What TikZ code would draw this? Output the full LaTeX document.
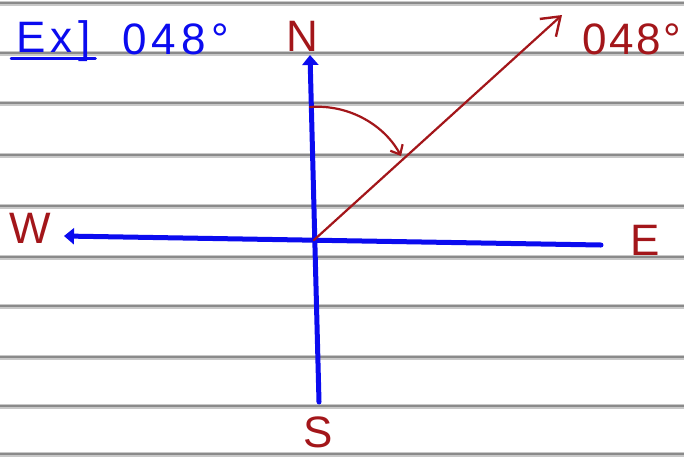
\documentclass[tikz,border=0pt]{standalone}
\usepackage{fontspec}
\setmainfont{Liberation Sans}
\usetikzlibrary{arrows.meta,positioning}
\definecolor{cmpBlue}{HTML}{0B0BEF}
\definecolor{cmpRed}{HTML}{A3161A}
\definecolor{cmpRule}{HTML}{8A8A8A}
\definecolor{cmpRuleEdge}{HTML}{C8C8C8}
\tikzset{
  ruling/.style={draw=cmpRuleEdge, line width=5pt},
  rulecore/.style={draw=cmpRule, line width=2pt},
  axis/.style={draw=cmpBlue, line width=5pt, line cap=round,
              -{Triangle[length=10pt,width=16pt]}},
  bearing/.style={draw=cmpRed, line width=2.2pt, line cap=round,
              -{Straight Barb[length=17pt,width=24pt,line width=2.4pt]}},
  sweep/.style={draw=cmpRed, line width=2.2pt, line cap=round,
              -{Straight Barb[length=8pt,width=14pt,line width=2.2pt]}},
  pt/.style={text=cmpRed, font=\fontsize{44}{44}\selectfont, inner sep=0pt},
  note/.style={text=cmpBlue, font=\fontsize{44}{44}\selectfont\addfontfeature{LetterSpace=12},
              inner sep=0pt},
  uline/.style={draw=cmpBlue, line width=2.5pt, line cap=round},
}

\begin{document}
\begin{tikzpicture}[x=1pt,y=-1pt]
  \useasboundingbox[fill=white] (0,0) rectangle (684,456);
  % ruled paper
  \foreach \y in {3,53,103,155,206,257,306,357,406,454}{
    \draw[ruling] (0,\y) -- (684,\y);
    \draw[rulecore] (0,\y) -- (684,\y);
  }
  % compass points
  \coordinate (o) at (314,240);
  \coordinate (ntip) at (310,55);
  \coordinate (send) at (319,402);
  \coordinate (wtip) at (64,236);
  \coordinate (eend) at (601,245);
  \coordinate (btip) at (562,15);
  \node[pt] (n) at (302,36) {N};
  \node[pt] (s) at (318,432) {S};
  \node[pt] (w) at (30,228) {W};
  \node[pt] (e) at (645,240) {E};
  \node[pt,anchor=base west,font=\fontsize{44}{44}\selectfont\addfontfeature{LetterSpace=6}]
    (brg) at (582,54) {048°};
  \node[note,anchor=base west] (ex) at (16,52) {Ex]};
  \draw[uline] ([xshift=-5pt,yshift=3pt]ex.south west) -- ([xshift=5pt,yshift=3pt]ex.south east);
  \node[note,anchor=base west] (given) at (122,54) {048°};
  % axes
  \draw[axis] (send) -- (ntip);
  \draw[axis] (eend) -- (wtip);
  % bearing
  \draw[bearing] (o) -- (btip);
  \coordinate (a0) at (310,107);
  \coordinate (a1) at (401,156);
  \draw[sweep] (a0) .. controls (350,104) and (385,126) .. (a1);
\end{tikzpicture}
\end{document}
